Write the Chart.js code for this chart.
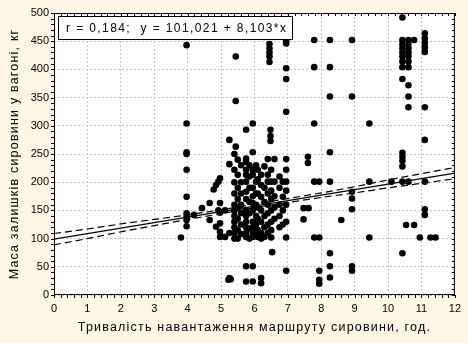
<!DOCTYPE html>
<html>
<head>
<meta charset="utf-8">
<script src="https://cdn.jsdelivr.net/npm/chart.js@4"></script>
<style>
html,body{margin:0;padding:0;background:#fdf6e4;}
#c{display:block;}
</style>
</head>
<body>
<canvas id="c" width="468" height="343"></canvas>
<script>
var FONT="'Liberation Sans', Arial, sans-serif";
var X_TITLE='Тривалість навантаження маршруту сировини, год.';
var Y_TITLE='Маса залишків сировини у вагоні, кг';
var NOTE='r = 0,184;  y = 101,021 + 8,103*x';

// x of each column of observations (hours) and the masses observed there (kg)
var HOURS=[3.8,3.97,4.19,4.43,4.66,4.78,4.85,4.92,4.97,5.12,5.22,5.25,5.29,5.4,5.44,5.5,5.6,5.75,5.85,5.95,
  6.05,6.1,6.2,6.3,6.4,6.45,6.48,6.5,6.53,6.6,6.75,6.85,6.95,7.47,7.6,7.62,7.79,7.94,8.26,8.6,8.92,9.44,
  10.1,10.43,10.54,10.61,10.78,10.95,11.1,11.27,11.42];
var MASS=[
  [102],
  [443,304,253,250,222,174,145,139,133,122],
  [142],
  [154],
  [163,133],
  [187],
  [195,121],
  [201,150],
  [207,163,146,127,112,103],
  [103,150],
  [27],
  [275,232,110,30],
  [28],
  [250,222,200,180,160,150,140,130,120,110,100],
  [423,344,263],
  [240,213,190,170,155,135,115,100],
  [230,200,180,160,145,125,108],
  [293,242,236,222,213,201,183,170,150,140,130,120,110,103,51,24],
  [230,210,190,165,145,118,100],
  [304,253,222,213,190,175,163,150,130,120,110,103,51,24],
  [230,201,180,160,140,125,110],
  [222,205,180,155,135,115,103],
  [213,195,174,150,130,110,100,30,21],
  [228,190,165,140,120,103],
  [241,213,201,180,160,145,125,110],
  [445,437,430,423,413],
  [293,282,273],
  [222,201,185,170,150,130,115,102],
  [76],
  [241,201,175,155,135],
  [210,190,160,140,120],
  [201,174,150,125],
  [451,446,402,383,325,241,222,201,185,160,130,102,43],
  [154,134],
  [245,234],
  [154],
  [452,404,304,201,102],
  [201,102,43,27,20],
  [452,404,352,253,201,74,51,31],
  [133],
  [452,352,183,171,152,51,43],
  [304,201,102],
  [201],
  [492,452,444,437,430,423,414,404,383,252,245,238,228,201,74],
  [124],
  [452,444,437,430,423,414,404,372,352,333,201],
  [452,124],
  [102],
  [464,455,447,439,431,333,275,201,152,142],
  [102],
  [102]
];

// fitted line and 95% band
var FIT_X=[0,12];
var FIT_Y=[99,216];
var BAND_X=[0,1,2,3,4,5,6,7,8,9,10,11,12];
var BAND_UP=[109,117,126,134,142,151,161,171,181,192,204,215,226];
var BAND_LO=[89,100,112,123,134,144,155,164,173,181,190,198,206];

var X_TICKS=[0,1,2,3,4,5,6,7,8,9,10,11,12];
var Y_TICKS=[0,50,100,150,200,250,300,350,400,450,500];

function pairs(xs,ys){return xs.map(function(x,i){return {x:x,y:ys[i]};});}

var pts=[];
HOURS.forEach(function(h,i){MASS[i].forEach(function(m){pts.push({x:h,y:m});});});

// white plot area, frame, minor ticks, note box and axis titles
var frame={
  id:'frame',
  beforeDraw:function(c){
    var a=c.chartArea,g=c.ctx;
    g.save();g.fillStyle='#fff';g.fillRect(a.left,a.top,a.right-a.left,a.bottom-a.top);g.restore();
  },
  afterDraw:function(c){
    var a=c.chartArea,g=c.ctx,sx=c.scales.x,sy=c.scales.y,v,p;
    g.save();
    g.strokeStyle='#000';g.lineWidth=1;
    g.strokeRect(a.left+0.5,a.top+0.5,a.right-a.left-1,a.bottom-a.top-1);
    g.beginPath();
    for(v=0;v<=12.001;v+=0.2){
      p=Math.round(sx.getPixelForValue(v))+0.5;
      g.moveTo(p,a.bottom);g.lineTo(p,a.bottom+3);
      g.moveTo(p,a.top);g.lineTo(p,a.top+3);
    }
    for(v=0;v<=500;v+=10){
      p=Math.round(sy.getPixelForValue(v))+0.5;
      g.moveTo(a.left,p);g.lineTo(a.left-3,p);
      g.moveTo(a.right,p);g.lineTo(a.right-3,p);
    }
    g.stroke();

    // note box
    g.fillStyle='#fff';g.fillRect(58,16,234,23);
    g.strokeRect(58.5,16.5,234,23);
    g.fillStyle='#000';g.font='12px '+FONT;g.textBaseline='middle';g.textAlign='left';
    g.letterSpacing='1.4px';
    g.fillText(NOTE,66,28.5);

    // axis titles
    g.font='12.5px '+FONT;g.letterSpacing='1.2px';g.textAlign='center';
    g.fillText(X_TITLE,(a.left+a.right)/2,328);
    g.translate(15,(a.top+a.bottom)/2);g.rotate(-Math.PI/2);
    g.fillText(Y_TITLE,0,0);
    g.restore();
  }
};

new Chart(document.getElementById('c'),{
  type:'scatter',
  data:{
    datasets:[
      {data:pairs(FIT_X,FIT_Y),showLine:true,borderColor:'#000',borderWidth:1.2,pointRadius:0,order:1},
      {data:pairs(BAND_X,BAND_UP),showLine:true,borderColor:'#000',borderWidth:1.2,borderDash:[7,4],pointRadius:0,order:1},
      {data:pairs(BAND_X,BAND_LO),showLine:true,borderColor:'#000',borderWidth:1.2,borderDash:[7,4],pointRadius:0,order:1},
      {data:pts,pointRadius:3.3,pointBackgroundColor:'#000',pointBorderColor:'#000',pointBorderWidth:0,order:2}
    ]
  },
  options:{
    responsive:false,
    animation:false,
    devicePixelRatio:1,
    layout:{padding:{left:0,top:13,right:6,bottom:0}},
    plugins:{legend:{display:false},tooltip:{enabled:false}},
    scales:{
      x:{
        type:'linear',min:0,max:12,
        afterBuildTicks:function(s){s.ticks=X_TICKS.map(function(v){return {value:v};});},
        afterFit:function(s){s.height=48;},
        ticks:{color:'#000',font:{size:11,family:FONT},padding:7,maxRotation:0},
        grid:{color:'#c4c4c4',drawTicks:false},
        border:{display:false,dash:[2,2]}
      },
      y:{
        type:'linear',min:0,max:500,
        afterBuildTicks:function(s){s.ticks=Y_TICKS.map(function(v){return {value:v};});},
        afterFit:function(s){s.width=54;},
        ticks:{color:'#000',font:{size:11,family:FONT},padding:5},
        grid:{color:'#c4c4c4',drawTicks:false},
        border:{display:false,dash:[2,2]}
      }
    }
  },
  plugins:[frame]
});
</script>
</body>
</html>
